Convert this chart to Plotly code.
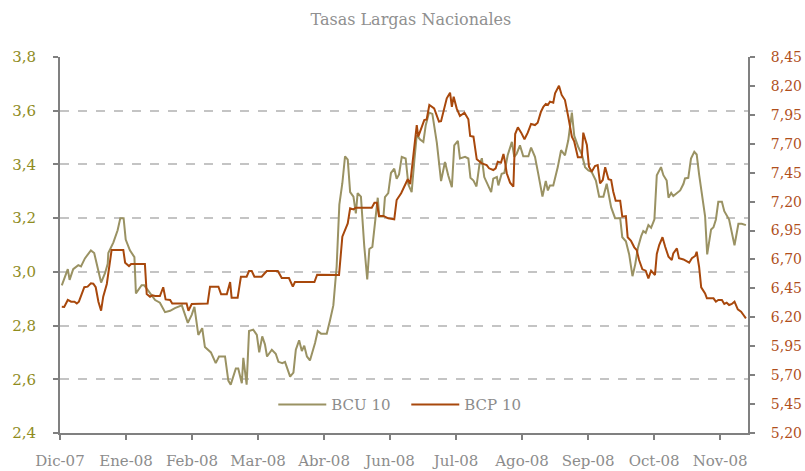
import plotly.graph_objects as go

# Observation index (trading days from start of Dic-07) and values
bcu_x = [0.6, 2.6, 3.2, 4.4, 6.1, 7.0, 8.3, 10.3, 11.4, 12.6, 13.7, 15.0, 15.9, 16.1, 17.8, 19.2, 20.1, 21.2,
         21.9, 23.3, 24.8, 25.3, 27.2, 28.1, 30.6, 31.7, 33.3, 35.0, 36.7, 38.3, 40.6, 42.6, 43.9, 44.8, 46.1,
         47.4, 48.3, 49.4, 50.3, 51.9, 53.0, 55.0, 56.1, 56.9, 58.6, 59.4, 60.6, 61.1, 61.7, 62.2, 63.0, 64.4,
         65.6, 66.4, 67.4, 68.3, 69.0, 70.6, 71.9, 72.8, 74.1, 75.0, 76.7, 77.8, 78.6, 79.7, 80.6, 81.4, 82.3,
         83.3, 85.0, 85.9, 87.0, 88.9, 90.0, 91.1, 92.2, 93.1, 94.1, 95.0, 95.9, 96.7, 97.8, 98.6, 99.2, 100.3,
         101.4, 102.4, 103.1, 104.1, 105.0, 105.9, 106.4, 107.8, 108.3, 109.4, 110.3, 111.4, 112.2, 113.0,
         113.9, 115.2, 116.1, 117.2, 118.1, 118.9, 120.0, 121.1, 121.9, 123.0, 124.1, 125.6, 127.0, 128.3,
         129.4, 130.6, 131.4, 132.6, 133.3, 135.0, 136.1, 136.8, 137.8, 138.8, 139.8, 140.6, 141.4, 142.8,
         143.7, 144.4, 145.6, 146.1, 147.2, 148.1, 149.2, 150.6, 151.4, 152.2, 153.3, 154.4, 156.1, 157.0,
         158.3, 159.4, 160.8, 161.9, 162.6, 163.3, 164.4, 165.9, 167.0, 168.3, 169.4, 170.6, 171.4, 172.8,
         173.9, 175.0, 176.1, 177.2, 178.6, 179.7, 181.1, 182.2, 183.7, 185.0, 186.7, 187.4, 188.6, 189.7,
         190.8, 191.7, 192.6, 193.7, 194.4, 195.2, 196.1, 197.0, 198.1, 198.9, 200.3, 201.1, 202.2, 202.8,
         203.7, 204.4, 205.6, 206.7, 207.8, 208.3, 209.4, 210.3, 211.4, 212.2, 213.0, 214.1, 215.0, 215.7,
         217.0, 217.8, 218.6, 219.4, 220.6, 221.4, 223.0, 224.8, 226.1, 227.2, 228.6]
bcu_y = [2.95, 3.01, 2.97, 3.01, 3.025, 3.02, 3.05, 3.08, 3.07, 3.015, 2.96, 2.995, 3.03, 3.07, 3.11, 3.155, 3.20, 3.20,
         3.12, 3.08, 3.055, 2.92, 2.95, 2.95, 2.91, 2.895, 2.885, 2.85, 2.855, 2.865, 2.875, 2.81, 2.84, 2.87, 2.765,
         2.79, 2.72, 2.71, 2.70, 2.66, 2.685, 2.685, 2.595, 2.58, 2.64, 2.64, 2.585, 2.68, 2.61, 2.58, 2.78, 2.785,
         2.765, 2.70, 2.76, 2.73, 2.685, 2.71, 2.695, 2.665, 2.66, 2.665, 2.61, 2.625, 2.71, 2.745, 2.705, 2.725, 2.685,
         2.67, 2.735, 2.78, 2.77, 2.77, 2.82, 2.875, 3.02, 3.25, 3.33, 3.43, 3.418, 3.297, 3.28, 3.218, 3.293, 3.28,
         3.097, 2.972, 3.085, 3.093, 3.184, 3.276, 3.206, 3.206, 3.278, 3.293, 3.368, 3.384, 3.347, 3.363,
         3.428, 3.422, 3.325, 3.297, 3.415, 3.509, 3.493, 3.484, 3.546, 3.593, 3.588, 3.48, 3.338, 3.409,
         3.359, 3.315, 3.471, 3.488, 3.422, 3.428, 3.422, 3.35, 3.34, 3.318, 3.40, 3.423, 3.353, 3.322,
         3.297, 3.347, 3.353, 3.322, 3.365, 3.368, 3.434, 3.484, 3.428, 3.44, 3.471, 3.43, 3.43, 3.463,
         3.428, 3.365, 3.28, 3.338, 3.303, 3.322, 3.322, 3.39, 3.453, 3.434, 3.49, 3.593, 3.506, 3.463,
         3.438, 3.39, 3.378, 3.372, 3.34, 3.28, 3.28, 3.328, 3.24, 3.2, 3.2, 3.129, 3.114, 3.065,
         2.984, 3.027, 3.089, 3.133, 3.152, 3.145, 3.174, 3.164, 3.195, 3.36, 3.39, 3.36, 3.34, 3.276,
         3.294, 3.282, 3.294, 3.303, 3.328, 3.348, 3.35, 3.422, 3.447, 3.437, 3.363, 3.276, 3.207, 3.065,
         3.158, 3.166, 3.195, 3.261, 3.261, 3.226, 3.195, 3.099, 3.179, 3.179, 3.174]

bcp_x = [0.6, 1.4, 2.6, 3.7, 4.8, 5.6, 6.3, 7.2, 8.1, 9.2, 10.3, 11.1, 11.9, 12.8, 13.7, 14.4, 15.6, 17.2, 21.1,
         21.7, 23.0, 23.7, 28.3, 28.9, 30.0, 30.8, 31.7, 33.3, 34.4, 35.2, 36.7, 37.4, 42.2, 42.8, 43.9, 49.2,
         50.0, 52.8, 53.7, 55.6, 56.7, 57.2, 59.2, 60.3, 62.2, 63.0, 63.9, 64.8, 67.2, 68.9, 72.6, 73.9, 76.3,
         77.6, 78.3, 84.8, 85.7, 93.0, 94.1, 95.9, 96.7, 97.8, 98.6, 103.9, 104.8, 105.6, 106.3, 107.8, 109.4,
         111.4, 112.2, 113.7, 115.9, 116.7, 117.8, 118.9, 119.4, 121.4, 122.2, 123.1, 124.7, 126.3, 127.0,
         128.9, 130.0, 130.6, 131.2, 132.2, 133.3, 134.8, 136.1, 136.7, 137.8, 138.9, 140.6, 142.2, 143.0,
         144.4, 145.2, 145.9, 147.0, 147.8, 148.3, 148.9, 150.0, 151.1, 151.7, 152.6, 153.7, 154.8, 155.9,
         157.0, 158.3, 159.2, 160.3, 161.1, 161.9, 162.6, 163.3, 164.4, 165.0, 166.3, 167.2, 168.3, 169.4,
         170.6, 171.4, 172.2, 172.6, 173.9, 174.4, 175.6, 176.3, 177.2, 178.3, 179.2, 180.0, 180.9, 181.7,
         182.8, 183.7, 184.4, 185.2, 186.7, 187.4, 188.6, 189.2, 190.3, 191.4, 192.2, 193.0, 194.1, 195.2,
         196.1, 197.0, 198.3, 198.9, 199.7, 200.8, 201.7, 202.8, 203.9, 204.4, 205.6, 206.3, 207.8, 208.6,
         209.7, 210.6, 211.7, 212.2, 213.0, 213.7, 215.0, 215.6, 217.8, 218.6, 219.4, 220.6, 221.4, 222.2,
         223.0, 223.9, 224.8, 225.9, 227.0, 227.8, 228.6]
bcp_y = [6.292, 6.29, 6.35, 6.335, 6.335, 6.32, 6.335, 6.407, 6.46, 6.465, 6.494, 6.49, 6.46, 6.335, 6.257, 6.378,
         6.488, 6.782, 6.782, 6.672, 6.643, 6.66, 6.66, 6.401, 6.378, 6.39, 6.384, 6.384, 6.46, 6.355, 6.35, 6.32,
         6.32, 6.257, 6.315, 6.32, 6.465, 6.465, 6.399, 6.399, 6.505, 6.37, 6.37, 6.551, 6.551, 6.6, 6.6, 6.551,
         6.551, 6.6, 6.6, 6.54, 6.54, 6.465, 6.505, 6.505, 6.568, 6.566, 6.897, 7.012, 7.142, 7.133, 7.147,
         7.147, 7.19, 7.19, 7.076, 7.076, 7.056, 7.047, 7.214, 7.272, 7.393, 7.352, 7.631, 7.862, 7.761, 7.905,
         7.91, 8.035, 8.006, 7.891, 7.895, 8.093, 8.142, 8.02, 8.107, 8.006, 7.94, 7.968, 7.911, 7.767, 7.761,
         7.566, 7.531, 7.516, 7.488, 7.473, 7.488, 7.545, 7.537, 7.612, 7.545, 7.445, 7.364, 7.329, 7.784,
         7.842, 7.796, 7.739, 7.796, 7.871, 7.862, 7.882, 7.977, 8.02, 8.044, 8.035, 8.064, 8.055, 8.136,
         8.202, 8.122, 8.078, 7.934, 7.761, 7.718, 7.631, 7.583, 7.583, 7.796, 7.689, 7.502, 7.459, 7.508,
         7.516, 7.358, 7.387, 7.497, 7.393, 7.387, 7.286, 7.208, 7.208, 7.07, 7.075, 6.892, 6.862, 6.805,
         6.782, 6.695, 6.615, 6.603, 6.537, 6.603, 6.566, 6.747, 6.825, 6.892, 6.81, 6.724, 6.695, 6.753,
         6.796, 6.71, 6.70, 6.687, 6.672, 6.71, 6.73, 6.767, 6.637, 6.459, 6.407, 6.364, 6.364, 6.335, 6.35,
         6.35, 6.315, 6.326, 6.306, 6.315, 6.335, 6.269, 6.249, 6.22, 6.191]

tick_pos = [0, 22, 44, 66, 88, 110, 132, 154, 176, 198, 220]
tick_labels = ["Dic-07", "Ene-08", "Feb-08", "Mar-08", "Abr-08", "Jun-08",
               "Jul-08", "Ago-08", "Sep-08", "Oct-08", "Nov-08"]

FONT = "DejaVu Serif"
GRAY_TXT = "#8c8c8c"
AXIS = "#808080"

fig = go.Figure()
fig.add_trace(go.Scatter(x=bcu_x, y=bcu_y, mode="lines", name="BCU 10",
                         line=dict(color="#9a9263", width=2)))
fig.add_trace(go.Scatter(x=bcp_x, y=bcp_y, mode="lines", name="BCP 10", yaxis="y2",
                         line=dict(color="#a8480c", width=2)))

fig.update_layout(
    width=805, height=471,
    margin=dict(l=60, r=57, t=57, b=38, autoexpand=False),
    paper_bgcolor="white", plot_bgcolor="white",
    separators=",.",
    font=dict(family=FONT, size=15, color=GRAY_TXT),
    title=dict(text="Tasas Largas Nacionales", x=0.51, xref="paper", xanchor="center",
               yref="container", y=0.971, yanchor="top", automargin=False,
               font=dict(family=FONT, size=16, color="#909090")),
    xaxis=dict(range=[0, 229.3], tickmode="array", tickvals=tick_pos, ticktext=tick_labels,
               showgrid=False, showline=True, linecolor=AXIS, linewidth=2,
               ticks="outside", ticklen=5, tickwidth=2, tickcolor=AXIS,
               ticklabelstandoff=8, zeroline=False, automargin=False,
               tickfont=dict(family=FONT, size=15, color=GRAY_TXT)),
    yaxis=dict(range=[2.4, 3.8], dtick=0.2, tick0=2.4, tickformat=".1f",
               showgrid=True, gridcolor="#c4c4c4", griddash="dash", gridwidth=1.5,
               showline=True, linecolor=AXIS, linewidth=2,
               ticks="outside", ticklen=5, tickwidth=2, tickcolor=AXIS,
               ticklabelstandoff=14, zeroline=False, automargin=False,
               tickfont=dict(family=FONT, size=15, color="#8f8c1e")),
    yaxis2=dict(range=[5.20, 8.45], dtick=0.25, tick0=5.20, tickformat=".2f",
                overlaying="y", side="right", showgrid=False,
                showline=True, linecolor=AXIS, linewidth=2,
                ticks="outside", ticklen=5, tickwidth=2, tickcolor=AXIS,
                ticklabelstandoff=13, zeroline=False, automargin=False,
                tickfont=dict(family=FONT, size=14, color="#b04f1c")),
    legend=dict(orientation="h", x=0.31, y=0.075, xanchor="left", yanchor="middle",
                bgcolor="rgba(0,0,0,0)", itemwidth=48, entrywidth=70, entrywidthmode="pixels",
                font=dict(family=FONT, size=15, color=GRAY_TXT)),
    showlegend=True,
)

fig.write_html("out.html", config={"displayModeBar": False},
               post_script="document.body.style.margin='0';document.body.style.overflow='hidden';")
